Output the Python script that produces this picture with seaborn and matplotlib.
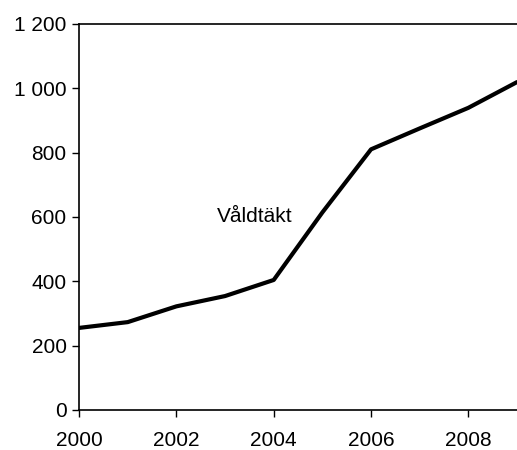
import matplotlib
matplotlib.use("Agg")
import matplotlib.pyplot as plt
import matplotlib.ticker as mticker
import seaborn as sns

years = [2000, 2001, 2002, 2003, 2004, 2005, 2006, 2007, 2008, 2009]
rapes = [255, 273, 322, 354, 404, 614, 810, 875, 939, 1019]
series_label = "Våldtäkt"

sns.set_style("white")
plt.rcParams["font.family"] = ["Liberation Sans", "DejaVu Sans"]
plt.rcParams["text.color"] = "black"

fig = plt.figure(figsize=(5.17, 4.5), dpi=100)
ax = fig.add_axes([0.153, 0.089, 0.847, 0.858])

sns.lineplot(x=years, y=rapes, color="black", linewidth=3, ax=ax)

ax.set_xlim(2000, 2009)
ax.set_ylim(0, 1200)
ax.set_xticks([2000, 2002, 2004, 2006, 2008])
ax.set_yticks(range(0, 1201, 200))
ax.yaxis.set_major_formatter(
    mticker.FuncFormatter(lambda v, p: f"{int(v):,}".replace(",", " ")))

ax.text(2002.83, 600, series_label, fontsize=15, va="center", ha="left",
        color="black")

for s in ["left", "top", "bottom"]:
    ax.spines[s].set_color("black")
    ax.spines[s].set_linewidth(1.2)
ax.spines["right"].set_visible(False)
ax.tick_params(axis="both", direction="out", length=5, width=1,
               labelsize=15, colors="black", pad=4, bottom=True, left=True)
ax.tick_params(axis="x", pad=10)
ax.set_xlabel("")
ax.set_ylabel("")

fig.savefig("out.png", dpi=100)
